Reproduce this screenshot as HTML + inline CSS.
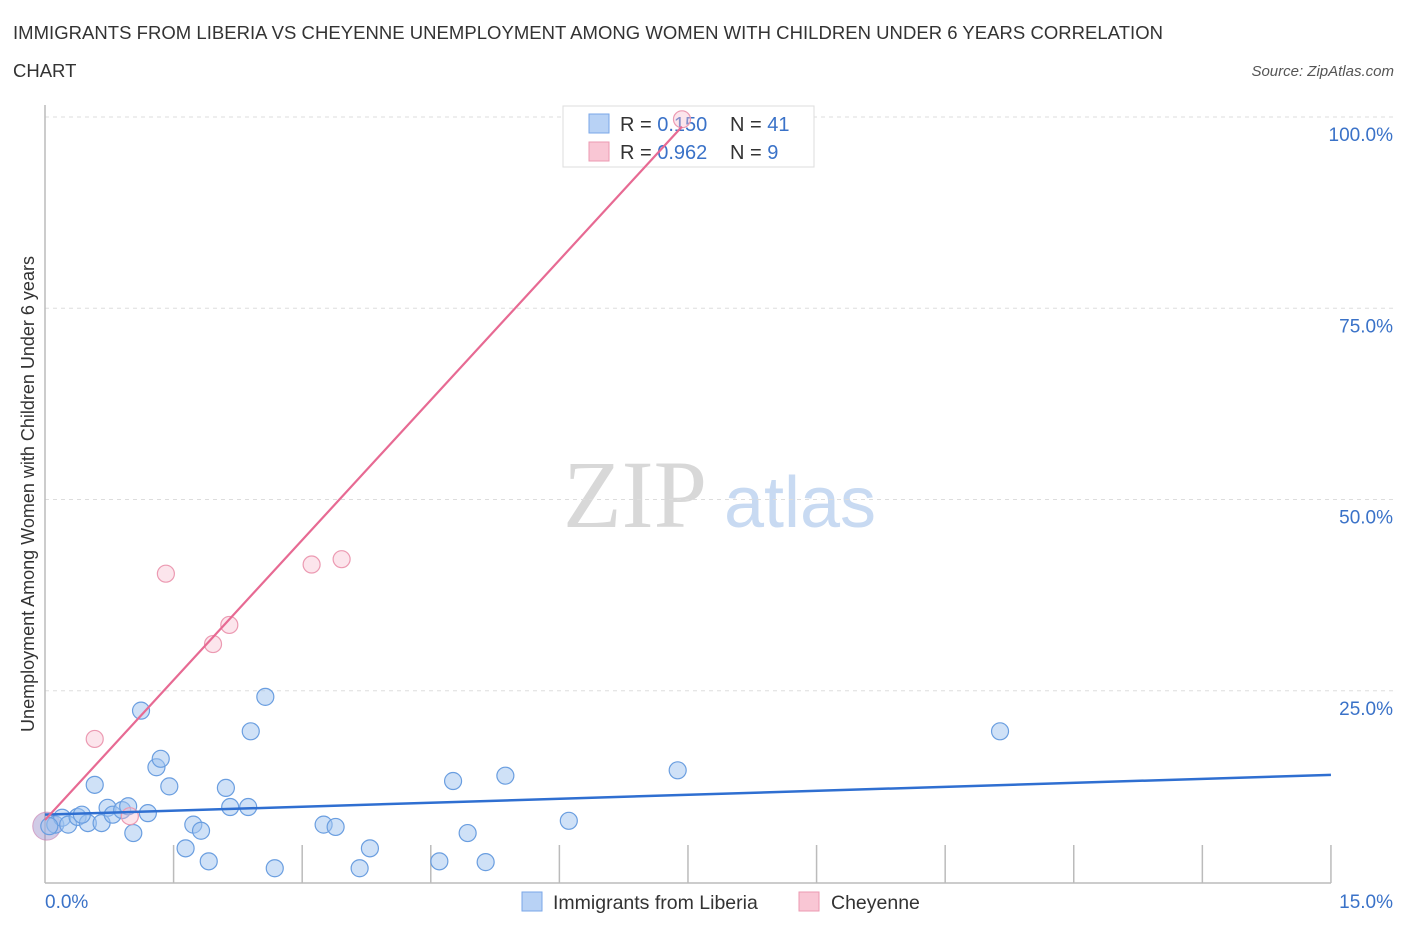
<!DOCTYPE html>
<html><head><meta charset="utf-8"><style>
body{margin:0;background:#fff;font-family:"Liberation Sans",sans-serif;}
svg text{font-family:"Liberation Sans",sans-serif;}
</style></head><body>
<svg id="c" width="1406" height="930" xmlns="http://www.w3.org/2000/svg">
<text x="13" y="39" font-size="18.5" fill="#333" textLength="1150">IMMIGRANTS FROM LIBERIA VS CHEYENNE UNEMPLOYMENT AMONG WOMEN WITH CHILDREN UNDER 6 YEARS CORRELATION</text>
<text x="13" y="77" font-size="18.5" fill="#333">CHART</text>
<text x="1394" y="76" font-size="15" fill="#555" font-style="italic" text-anchor="end">Source: ZipAtlas.com</text>
<text x="635" y="527" font-size="96" fill="#d8d8d8" style="font-family:'Liberation Serif',serif" text-anchor="middle">ZIP</text>
<text x="800" y="527" font-size="72" fill="#c8daf2" text-anchor="middle">atlas</text>
<g id="grid"></g>
<line x1="45" y1="105" x2="45" y2="883" stroke="#bbb" stroke-width="1.5"/>
<line x1="45" y1="883" x2="1331" y2="883" stroke="#bbb" stroke-width="1.5"/>
<g>
<rect x="563" y="106" width="251" height="61" fill="#fff" stroke="#ddd"/>
<rect x="589" y="114" width="20" height="19" fill="#b8d2f5" stroke="#7aa7e8"/>
<rect x="589" y="142" width="20" height="19" fill="#f9c6d4" stroke="#ec9ab2"/>
<text x="620" y="131" font-size="20" fill="#333">R = <tspan fill="#3a72c8">0.150</tspan></text>
<text x="730" y="131" font-size="20" fill="#333">N = <tspan fill="#3a72c8">41</tspan></text>
<text x="620" y="159" font-size="20" fill="#333">R = <tspan fill="#3a72c8">0.962</tspan></text>
<text x="730" y="159" font-size="20" fill="#333">N = <tspan fill="#3a72c8">  9</tspan></text>
</g>
<g id="pts"></g>
<g id="lines"></g>
<text transform="translate(34,494) rotate(-90)" font-size="18" fill="#333" text-anchor="middle">Unemployment Among Women with Children Under 6 years</text>
<text x="45" y="908" font-size="19" fill="#3a72c8">0.0%</text>
<text x="1393" y="908" font-size="19" fill="#3a72c8" text-anchor="end">15.0%</text>
<g>
<rect x="522" y="892" width="20" height="19" fill="#b8d2f5" stroke="#7aa7e8"/>
<text x="553" y="909" font-size="19.5" fill="#333">Immigrants from Liberia</text>
<rect x="799" y="892" width="20" height="19" fill="#f9c6d4" stroke="#ec9ab2"/>
<text x="831" y="909" font-size="19.5" fill="#333">Cheyenne</text>
</g>
</svg>
<script>
const yTicks=[25,50,75,100];
const yTickLabels=["25.0%","50.0%","75.0%","100.0%"];
const xTickVals=[1.5,3,4.5,6,7.5,9,10.5,12,13.5,15];
const blueX=[0.12,0.20,0.27,0.38,0.50,0.58,0.66,0.73,0.79,0.90,0.97,1.03,1.12,1.20,1.30,1.35,1.45,1.64,1.73,1.82,1.91,2.11,2.16,2.37,2.40,2.57,2.68,3.25,3.39,3.67,3.79,4.60,4.76,4.93,5.14,5.37,6.11,7.38,11.14,0.43,0.05];
const blueY=[7.5,8.4,7.5,8.5,7.7,12.7,7.7,9.7,8.8,9.4,9.9,6.4,22.4,9.0,15.0,16.1,12.5,4.4,7.5,6.7,2.7,12.3,9.8,9.8,19.7,24.2,1.8,7.5,7.2,1.8,4.4,2.7,13.2,6.4,2.6,13.9,8.0,14.6,19.7,8.8,7.3];
const pinkX=[0.58,0.99,1.41,1.96,2.15,3.11,3.46,7.43];
const pinkY=[18.7,8.6,40.3,31.1,33.6,41.5,42.2,99.7];
const blueLine=[8.8,14.0];   // y at x=0 and x=15
const pinkLine=[8.1,12.2];   // intercept, slope
const X=v=>45+v*85.73, Y=v=>882-v*7.65;
const NS="http://www.w3.org/2000/svg";
function mk(t,a,p){const e=document.createElementNS(NS,t);for(const k in a)e.setAttribute(k,a[k]);p.appendChild(e);return e;}
const grid=document.getElementById('grid');
yTicks.forEach((v,i)=>{
 const l=mk('line',{x1:45,x2:1395,y1:Y(v),y2:Y(v),stroke:'#ddd','stroke-dasharray':'4,4'},grid);
 
 
 const t=mk('text',{x:1393,y:Y(v)+24,'font-size':19,fill:'#3a72c8','text-anchor':'end'},grid);
 t.textContent=yTickLabels[i];
 
 
});
xTickVals.forEach(v=>{
 const l=mk('line',{x1:X(v),x2:X(v),y1:845,y2:883,stroke:'#bbb','stroke-width':1.5},grid);
 
 
});
const pts=document.getElementById('pts');
const b0=mk('circle',{cx:X(0.02),cy:Y(7.3),r:14,fill:'rgba(150,140,200,0.45)',stroke:'rgba(200,120,170,0.6)'},pts);


blueX.forEach((x,i)=>{
 const c=mk('circle',{cx:X(x),cy:Y(blueY[i]),r:8.5,fill:'rgba(160,195,240,0.5)',stroke:'#6a9ee0','stroke-width':1.2},pts);
 
 
});
pinkX.forEach((x,i)=>{
 const c=mk('circle',{cx:X(x),cy:Y(pinkY[i]),r:8.5,fill:'rgba(248,190,208,0.4)',stroke:'#ec9ab2','stroke-width':1.2},pts);
 
 
});
const lines=document.getElementById('lines');
const bl=mk('line',{x1:X(0),y1:Y(blueLine[0]),x2:X(15),y2:Y(blueLine[1]),stroke:'#2f6fd1','stroke-width':2.5},lines);


const xe=7.43;
const pl=mk('line',{x1:X(0),y1:Y(pinkLine[0]),x2:X(xe),y2:Y(pinkLine[0]+pinkLine[1]*xe),stroke:'#e76a93','stroke-width':2.2},lines);


</script>
</body></html>
